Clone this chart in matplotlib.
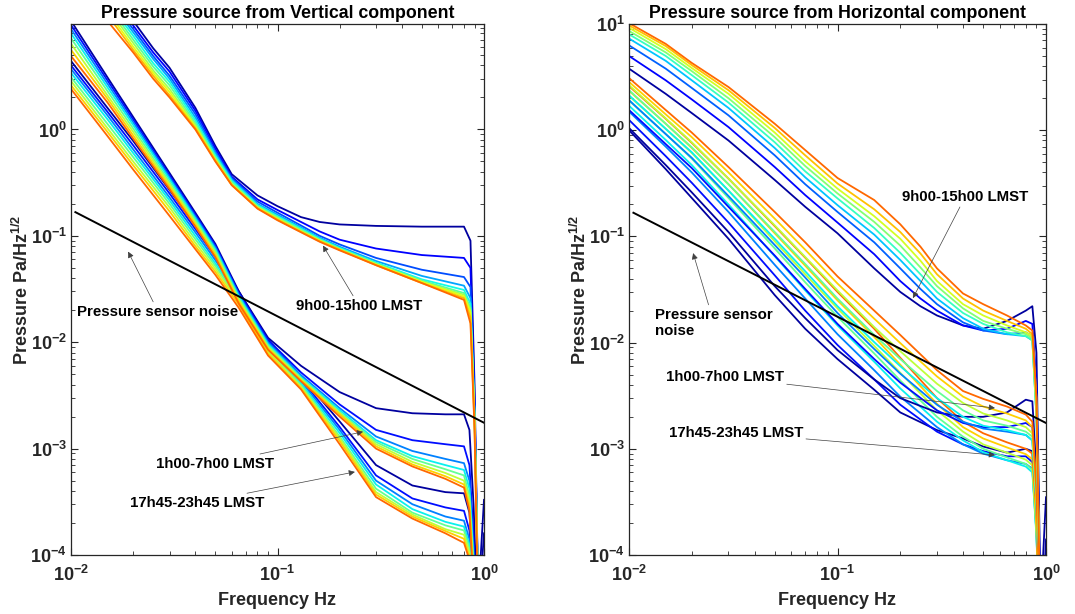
import numpy as np
import matplotlib
matplotlib.use("Agg")
import matplotlib.pyplot as plt
from matplotlib.ticker import FixedLocator, NullFormatter

plt.rcParams["font.family"] = "Liberation Sans"
plt.rcParams["font.weight"] = "bold"
plt.rcParams["mathtext.fontset"] = "custom"
plt.rcParams["mathtext.rm"] = "Liberation Sans:bold"
plt.rcParams["mathtext.bf"] = "Liberation Sans:bold"
plt.rcParams["mathtext.it"] = "Liberation Sans:bold"

# ----------------------------
# Data (rows ordered dark blue -> orange)
# ----------------------------
NOISE_F = [0.0105, 1.0]
NOISE_P = [0.167, 0.00175]

# Left: vertical component, daytime (9h00-15h00)
LV_DAY_F = [0.015, 0.02, 0.025, 0.03, 0.04, 0.05, 0.06, 0.08, 0.1, 0.13,
            0.16, 0.2, 0.3, 0.5, 0.8, 0.86, 0.9, 0.94]
LV_DAY_P = [
    [22, 10.5, 5.8, 3.8, 1.6, 0.70, 0.38, 0.24, 0.19, 0.15, 0.135, 0.128, 0.124, 0.122, 0.122, 0.09, 0.004, 3e-5],
    [20, 9.5, 5.3, 3.5, 1.5, 0.66, 0.36, 0.22, 0.175, 0.135, 0.11, 0.092, 0.076, 0.066, 0.062, 0.05, 0.003, 3e-5],
    [18, 8.8, 4.9, 3.2, 1.4, 0.62, 0.35, 0.21, 0.165, 0.125, 0.10, 0.083, 0.062, 0.048, 0.041, 0.033, 0.0025, 3e-5],
    [17, 8.2, 4.6, 3.0, 1.3, 0.60, 0.34, 0.20, 0.158, 0.12, 0.096, 0.079, 0.058, 0.042, 0.034, 0.026, 0.002, 3e-5],
    [16, 7.6, 4.2, 2.8, 1.22, 0.57, 0.33, 0.195, 0.153, 0.117, 0.094, 0.077, 0.056, 0.039, 0.031, 0.023, 0.002, 3e-5],
    [15, 7.0, 3.9, 2.6, 1.15, 0.55, 0.32, 0.19, 0.15, 0.114, 0.092, 0.076, 0.055, 0.038, 0.029, 0.021, 0.002, 3e-5],
    [14, 6.5, 3.6, 2.4, 1.10, 0.53, 0.31, 0.187, 0.147, 0.112, 0.091, 0.075, 0.054, 0.037, 0.028, 0.020, 0.002, 3e-5],
    [13, 6.0, 3.4, 2.25, 1.06, 0.52, 0.305, 0.184, 0.144, 0.11, 0.09, 0.074, 0.054, 0.037, 0.027, 0.019, 0.0018, 3e-5],
    [12, 5.6, 3.2, 2.1, 1.03, 0.51, 0.30, 0.182, 0.142, 0.109, 0.089, 0.074, 0.053, 0.036, 0.026, 0.017, 0.0016, 2e-5],
    [10.5, 5.3, 3.0, 2.0, 1.0, 0.50, 0.30, 0.18, 0.14, 0.108, 0.088, 0.073, 0.053, 0.036, 0.025, 0.015, 0.0015, 2e-5],
]

# Left: night (1h00-7h00) and evening (17h45-23h45)
LV_NIGHT_F = [0.01, 0.015, 0.02, 0.03, 0.04, 0.05, 0.065, 0.09, 0.13, 0.2,
              0.3, 0.45, 0.65, 0.8, 0.85, 0.89, 0.93, 1.0]
LV_NIGHT_P = [
    [10.5, 3.1, 1.31, 0.39, 0.165, 0.084, 0.030, 0.0110, 6.0e-3, 3.4e-3, 2.4e-3, 2.15e-3, 2.1e-3, 2.1e-3, 1.5e-3, 3e-4, 3e-5, 3.3e-4],
    [9.6, 2.9, 1.24, 0.37, 0.158, 0.081, 0.029, 0.0105, 5.2e-3, 2.6e-3, 1.5e-3, 1.2e-3, 1.1e-3, 1.05e-3, 7e-4, 1.5e-4, 2e-5, 1e-5],
    [8.8, 2.7, 1.17, 0.355, 0.152, 0.078, 0.028, 0.0100, 4.9e-3, 2.4e-3, 1.3e-3, 9.5e-4, 8e-4, 7.3e-4, 5e-4, 1.1e-4, 2e-5, 1e-5],
    [8.0, 2.5, 1.10, 0.34, 0.146, 0.075, 0.027, 0.0096, 4.7e-3, 2.3e-3, 1.2e-3, 8.5e-4, 7e-4, 6.3e-4, 4.2e-4, 9e-5, 2e-5, 1e-5],
    [7.2, 2.3, 1.02, 0.32, 0.140, 0.072, 0.026, 0.0093, 4.6e-3, 2.2e-3, 1.15e-3, 8e-4, 6.4e-4, 5.6e-4, 3.6e-4, 8e-5, 2e-5, 1e-5],
    [6.4, 2.1, 0.95, 0.305, 0.134, 0.069, 0.025, 0.0090, 4.5e-3, 2.15e-3, 1.1e-3, 7.5e-4, 5.9e-4, 5.0e-4, 3.2e-4, 7e-5, 2e-5, 1e-5],
    [5.6, 1.95, 0.88, 0.29, 0.128, 0.066, 0.024, 0.0087, 4.4e-3, 2.1e-3, 1.05e-3, 7.1e-4, 5.5e-4, 4.6e-4, 2.9e-4, 6e-5, 2e-5, 1e-5],
    [4.9, 1.8, 0.82, 0.275, 0.122, 0.063, 0.023, 0.0085, 4.3e-3, 2.0e-3, 1.0e-3, 6.8e-4, 5.2e-4, 4.3e-4, 2.6e-4, 5e-5, 2e-5, 1e-5],
]
LV_EVE_P = [
    [4.4, 1.6, 0.78, 0.27, 0.125, 0.068, 0.030, 0.0105, 4.8e-3, 1.8e-3, 7.0e-4, 4.5e-4, 3.9e-4, 3.8e-4, 2.5e-4, 6e-5, 2e-5, 1.6e-4],
    [4.0, 1.47, 0.71, 0.25, 0.116, 0.063, 0.028, 0.0100, 4.5e-3, 1.6e-3, 5.6e-4, 3.4e-4, 2.8e-4, 2.6e-4, 1.7e-4, 4e-5, 1.5e-5, 1e-5],
    [3.7, 1.36, 0.65, 0.23, 0.108, 0.059, 0.027, 0.0095, 4.3e-3, 1.5e-3, 5.0e-4, 3.0e-4, 2.3e-4, 2.1e-4, 1.4e-4, 3.5e-5, 1.5e-5, 1e-5],
    [3.4, 1.25, 0.60, 0.215, 0.100, 0.055, 0.026, 0.0090, 4.1e-3, 1.4e-3, 4.6e-4, 2.7e-4, 2.05e-4, 1.85e-4, 1.25e-4, 3e-5, 1.2e-5, 1e-5],
    [3.1, 1.13, 0.55, 0.20, 0.093, 0.052, 0.025, 0.0086, 3.95e-3, 1.3e-3, 4.2e-4, 2.5e-4, 1.9e-4, 1.7e-4, 1.15e-4, 3e-5, 1.2e-5, 1e-5],
    [2.85, 1.03, 0.50, 0.185, 0.086, 0.049, 0.024, 0.0082, 3.8e-3, 1.25e-3, 3.9e-4, 2.4e-4, 1.75e-4, 1.55e-4, 1.05e-4, 3e-5, 1e-5, 1e-5],
    [2.6, 0.95, 0.46, 0.17, 0.080, 0.046, 0.0225, 0.0078, 3.7e-3, 1.18e-3, 3.7e-4, 2.3e-4, 1.68e-4, 1.42e-4, 9.5e-5, 3e-5, 1e-5, 1e-5],
    [2.4, 0.87, 0.42, 0.154, 0.075, 0.043, 0.021, 0.0075, 3.6e-3, 1.1e-3, 3.5e-4, 2.2e-4, 1.6e-4, 1.3e-4, 9e-5, 3e-5, 1e-5, 1e-5],
]

# Right: horizontal component, daytime
RH_DAY_F = [0.01, 0.015, 0.02, 0.03, 0.05, 0.07, 0.1, 0.15, 0.2, 0.25, 0.3,
            0.4, 0.5, 0.65, 0.8, 0.86, 0.9, 0.94]
RH_DAY_P = [
    [3.8, 2.2, 1.45, 0.80, 0.34, 0.19, 0.107, 0.050, 0.030, 0.022, 0.018, 0.0145, 0.0135, 0.016, 0.020, 0.022, 0.008, 5e-5],
    [5.0, 2.95, 1.95, 1.07, 0.45, 0.245, 0.135, 0.068, 0.038, 0.026, 0.020, 0.0145, 0.013, 0.0135, 0.016, 0.015, 0.004, 3e-5],
    [6.3, 3.8, 2.5, 1.38, 0.58, 0.31, 0.17, 0.088, 0.050, 0.032, 0.023, 0.0155, 0.013, 0.012, 0.0125, 0.0115, 0.0025, 2e-5],
    [7.3, 4.5, 2.95, 1.62, 0.68, 0.36, 0.197, 0.104, 0.060, 0.038, 0.026, 0.017, 0.0135, 0.012, 0.0115, 0.0105, 0.002, 2e-5],
    [8.0, 5.0, 3.3, 1.82, 0.77, 0.41, 0.228, 0.12, 0.070, 0.044, 0.030, 0.019, 0.015, 0.0125, 0.0115, 0.0105, 0.002, 2e-5],
    [8.6, 5.4, 3.6, 2.0, 0.86, 0.46, 0.254, 0.137, 0.082, 0.051, 0.034, 0.021, 0.016, 0.0135, 0.012, 0.011, 0.002, 2e-5],
    [9.2, 5.8, 3.85, 2.2, 0.95, 0.51, 0.282, 0.155, 0.095, 0.059, 0.038, 0.023, 0.018, 0.0145, 0.0125, 0.0115, 0.0025, 2e-5],
    [9.7, 6.2, 4.1, 2.38, 1.05, 0.58, 0.315, 0.18, 0.11, 0.069, 0.044, 0.026, 0.020, 0.016, 0.0135, 0.012, 0.003, 2e-5],
    [10.2, 6.5, 4.3, 2.55, 1.15, 0.65, 0.355, 0.22, 0.13, 0.080, 0.050, 0.029, 0.023, 0.018, 0.0145, 0.013, 0.003, 2e-5],
]

# Right: night and evening
RH_NIGHT_F = [0.01, 0.015, 0.02, 0.03, 0.05, 0.07, 0.1, 0.15, 0.2, 0.3, 0.4,
              0.5, 0.65, 0.8, 0.86, 0.9, 0.94, 1.0]
RH_NIGHT_P = [
    [1.05, 0.47, 0.26, 0.11, 0.034, 0.017, 8.5e-3, 4.5e-3, 3.0e-3, 2.2e-3, 2.0e-3, 2.0e-3, 2.2e-3, 2.9e-3, 2.8e-3, 6e-4, 3e-5, 3.5e-4],
    [1.55, 0.74, 0.44, 0.19, 0.066, 0.032, 0.015, 7.0e-3, 4.2e-3, 2.3e-3, 1.75e-3, 1.6e-3, 1.6e-3, 1.75e-3, 1.6e-3, 3.5e-4, 2e-5, 1e-5],
    [1.92, 0.92, 0.55, 0.24, 0.083, 0.041, 0.019, 8.7e-3, 5.1e-3, 2.6e-3, 1.8e-3, 1.55e-3, 1.45e-3, 1.35e-3, 1.2e-3, 3e-4, 2e-5, 1e-5],
    [2.13, 1.03, 0.62, 0.27, 0.095, 0.047, 0.022, 0.0101, 6.0e-3, 3.0e-3, 2.0e-3, 1.65e-3, 1.5e-3, 1.35e-3, 1.2e-3, 3e-4, 2e-5, 1e-5],
    [2.38, 1.15, 0.69, 0.31, 0.11, 0.055, 0.026, 0.0118, 7.0e-3, 3.5e-3, 2.3e-3, 1.85e-3, 1.65e-3, 1.45e-3, 1.3e-3, 3e-4, 2e-5, 1e-5],
    [2.65, 1.29, 0.77, 0.35, 0.127, 0.064, 0.031, 0.014, 8.3e-3, 4.1e-3, 2.7e-3, 2.15e-3, 1.85e-3, 1.6e-3, 1.4e-3, 3.5e-4, 2e-5, 1e-5],
    [2.85, 1.41, 0.86, 0.40, 0.147, 0.075, 0.036, 0.0168, 9.9e-3, 4.8e-3, 3.1e-3, 2.5e-3, 2.15e-3, 1.85e-3, 1.6e-3, 3.8e-4, 2e-5, 1e-5],
    [3.1, 1.55, 0.95, 0.45, 0.17, 0.088, 0.042, 0.020, 0.0118, 5.5e-3, 3.5e-3, 2.95e-3, 2.5e-3, 2.1e-3, 1.8e-3, 4e-4, 2e-5, 1e-5],
]
RH_EVE_P = [
    [1.0, 0.43, 0.23, 0.095, 0.028, 0.0135, 7.0e-3, 3.6e-3, 2.2e-3, 1.5e-3, 1.25e-3, 1.05e-3, 9.2e-4, 1.0e-3, 9.5e-4, 2e-4, 1e-5, 1.4e-4],
    [1.25, 0.57, 0.32, 0.135, 0.043, 0.020, 9.5e-3, 4.5e-3, 2.6e-3, 1.45e-3, 1.1e-3, 9.5e-4, 8.5e-4, 8.5e-4, 7.5e-4, 1.8e-4, 1e-5, 1e-5],
    [1.5, 0.70, 0.40, 0.17, 0.054, 0.026, 0.012, 5.5e-3, 3.1e-3, 1.6e-3, 1.1e-3, 9e-4, 7.8e-4, 7.2e-4, 6.5e-4, 1.6e-4, 1e-5, 1e-5],
    [1.7, 0.81, 0.47, 0.20, 0.065, 0.031, 0.0145, 6.6e-3, 3.7e-3, 1.8e-3, 1.2e-3, 9.3e-4, 7.8e-4, 6.8e-4, 6e-4, 1.5e-4, 1e-5, 1e-5],
    [1.9, 0.92, 0.54, 0.23, 0.077, 0.037, 0.0175, 7.9e-3, 4.4e-3, 2.0e-3, 1.3e-3, 1.0e-3, 8.3e-4, 7.2e-4, 6.3e-4, 1.6e-4, 1e-5, 1e-5],
    [2.1, 1.03, 0.61, 0.27, 0.090, 0.044, 0.021, 9.3e-3, 5.2e-3, 2.3e-3, 1.45e-3, 1.1e-3, 9.2e-4, 7.9e-4, 7e-4, 1.8e-4, 1e-5, 1e-5],
    [2.35, 1.15, 0.68, 0.31, 0.107, 0.053, 0.025, 0.0113, 6.2e-3, 2.65e-3, 1.6e-3, 1.25e-3, 1.03e-3, 8.9e-4, 8e-4, 2e-4, 1e-5, 1e-5],
    [2.6, 1.28, 0.76, 0.35, 0.125, 0.063, 0.030, 0.0135, 7.2e-3, 3.0e-3, 1.8e-3, 1.4e-3, 1.15e-3, 1.0e-3, 9e-4, 2.5e-4, 1e-5, 1e-5],
]

X_TICKS = [0.01, 0.1, 1.0]
X_LABELS = [r"$10^{-2}$", r"$10^{-1}$", r"$10^{0}$"]
Y_TICKS = [1e-4, 1e-3, 1e-2, 1e-1, 1e0, 1e1]
Y_LABELS = [r"$10^{-4}$", r"$10^{-3}$", r"$10^{-2}$", r"$10^{-1}$", r"$10^{0}$", r"$10^{1}$"]


def draw_group(ax, freqs, rows):
    cols = plt.cm.jet(np.linspace(0.03, 0.8, len(rows)))
    for vals, c in zip(rows, cols):
        ax.plot(freqs, vals, color=c, lw=1.3, solid_joinstyle="round")


def style_axes(ax, title, ytop):
    ax.set_xscale("log")
    ax.set_yscale("log")
    ax.set_xlim(0.01, 1.0)
    ax.set_ylim(1e-4, ytop)
    ax.xaxis.set_major_locator(FixedLocator(X_TICKS))
    ax.set_xticklabels(X_LABELS)
    ax.yaxis.set_major_locator(FixedLocator(Y_TICKS))
    ax.set_yticklabels(Y_LABELS)
    minor_x = [m * d for d in (0.01, 0.1) for m in range(2, 10)]
    minor_y = [m * d for d in (1e-4, 1e-3, 1e-2, 1e-1, 1e0) for m in range(2, 10)]
    ax.xaxis.set_minor_locator(FixedLocator(minor_x))
    ax.yaxis.set_minor_locator(FixedLocator(minor_y))
    ax.xaxis.set_minor_formatter(NullFormatter())
    ax.yaxis.set_minor_formatter(NullFormatter())
    ax.tick_params(which="both", direction="in", top=True, right=True,
                   colors="0.15", labelcolor="0.15", labelsize=13)
    ax.tick_params(axis="x", which="major", pad=7)
    ax.tick_params(axis="y", which="major", pad=3)
    ax.tick_params(which="major", length=5, width=0.8)
    ax.tick_params(which="minor", length=3, width=0.6)
    for s in ax.spines.values():
        s.set_color("0.15")
        s.set_linewidth(0.9)
    ax.set_title(title, fontsize=12.8, fontweight="bold", pad=4)
    ax.set_xlabel("Frequency Hz", fontsize=13, fontweight="bold", labelpad=5, color="0.15")
    ax.set_ylabel(r"Pressure Pa/Hz$^{1/2}$", fontsize=13, fontweight="bold", labelpad=-1, color="0.15")


def note(ax, text, xy, xytext, ha="center"):
    ax.annotate(text, xy=xy, xytext=xytext, textcoords="data",
                fontsize=10.8, fontweight="bold", ha=ha, va="center",
                arrowprops=dict(arrowstyle="-|>", color="0.25", lw=0.5,
                                mutation_scale=9, shrinkA=0, shrinkB=0))


fig = plt.figure(figsize=(10.75, 6.14), dpi=100)
W, H = 1075.0, 614.0
ax1 = fig.add_axes([71 / W, 1 - 555 / H, 413 / W, 531 / H])
ax2 = fig.add_axes([629 / W, 1 - 555 / H, 417 / W, 531 / H])

# Left panel
draw_group(ax1, LV_NIGHT_F, LV_EVE_P)
draw_group(ax1, LV_NIGHT_F, LV_NIGHT_P)
draw_group(ax1, LV_DAY_F, LV_DAY_P)
ax1.plot(NOISE_F, NOISE_P, color="k", lw=1.4)
style_axes(ax1, "Pressure source from Vertical component", 9.8)

note(ax1, "Pressure sensor noise", (0.0189, 0.0711), (0.0264, 0.0194))
note(ax1, "9h00-15h00 LMST", (0.166, 0.081), (0.248, 0.0221))
note(ax1, "1h00-7h00 LMST", (0.2596, 1.44e-3), (0.0496, 7.2e-4))
note(ax1, "17h45-23h45 LMST", (0.237, 6.04e-4), (0.041, 3.08e-4))

# Right panel
draw_group(ax2, RH_NIGHT_F, RH_EVE_P)
draw_group(ax2, RH_NIGHT_F, RH_NIGHT_P)
draw_group(ax2, RH_DAY_F, RH_DAY_P)
ax2.plot(NOISE_F, NOISE_P, color="k", lw=1.4)
style_axes(ax2, "Pressure source from Horizontal component", 10.0)

note(ax2, "9h00-15h00 LMST", (0.230, 0.0262), (0.4087, 0.234))
note(ax2, "Pressure sensor\nnoise", (0.0203, 0.0696), (0.01333, 0.0154), ha="left")
note(ax2, "1h00-7h00 LMST", (0.569, 2.42e-3), (0.02886, 4.73e-3))
note(ax2, "17h45-23h45 LMST", (0.569, 8.73e-4), (0.0326, 1.41e-3))

fig.savefig("out.png", dpi=100)
